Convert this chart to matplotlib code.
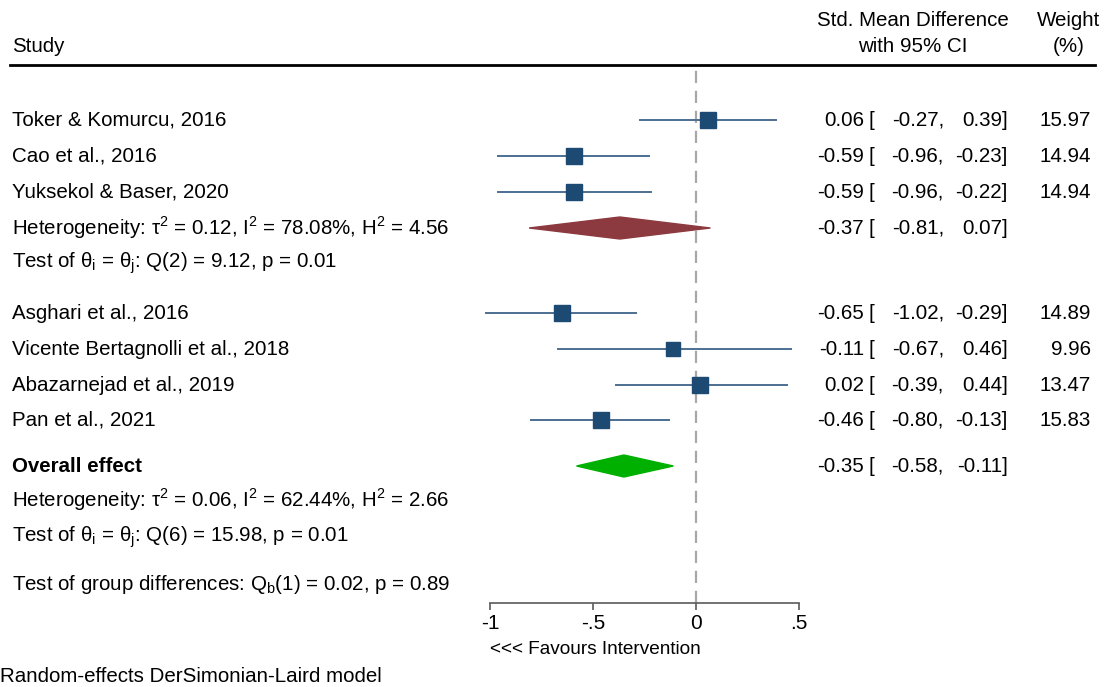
"""
Forest plot: Std. Mean Difference with 95% CI, two subgroups
"""

import numpy as np
import matplotlib
matplotlib.use('Agg')
import matplotlib.pyplot as plt
from matplotlib.patches import Polygon
from matplotlib.transforms import blended_transform_factory

### Data
studies = ['Toker & Komurcu, 2016', 'Cao et al., 2016', 'Yuksekol & Baser, 2020',
           'Asghari et al., 2016', 'Vicente Bertagnolli et al., 2018',
           'Abazarnejad et al., 2019', 'Pan et al., 2021']
smd = [0.06, -0.59, -0.59, -0.65, -0.11, 0.02, -0.46]
ci_lo = [-0.27, -0.96, -0.96, -1.02, -0.67, -0.39, -0.80]
ci_hi = [0.39, -0.23, -0.22, -0.29, 0.46, 0.44, -0.13]
weight = [15.97, 14.94, 14.94, 14.89, 9.96, 13.47, 15.83]

sub_est, sub_lo, sub_hi = -0.37, -0.81, 0.07
sub_het = 'Heterogeneity: τ$^\\mathregular{2}$ = 0.12, I$^\\mathregular{2}$ = 78.08%, H$^\\mathregular{2}$ = 4.56'
sub_test = 'Test of θ$_\\mathregular{i}$ = θ$_\\mathregular{j}$: Q(2) = 9.12, p = 0.01'

all_est, all_lo, all_hi = -0.35, -0.58, -0.11
all_het = 'Heterogeneity: τ$^\\mathregular{2}$ = 0.06, I$^\\mathregular{2}$ = 62.44%, H$^\\mathregular{2}$ = 2.66'
all_test = 'Test of θ$_\\mathregular{i}$ = θ$_\\mathregular{j}$: Q(6) = 15.98, p = 0.01'
grp_test = 'Test of group differences: Q$_\\mathregular{b}$(1) = 0.02, p = 0.89'

xticks = [-1, -0.5, 0, 0.5]
xticklabels = ['-1', '-.5', '0', '.5']

### Layout (pixel rows, from top of a 1105x687 canvas)
W, H = 1105, 687
study_rows = [120, 156, 192, 313, 349, 385, 420]
row_het1, row_test1, row_sub = 228, 263, 228
row_all, row_het2, row_test2, row_grp = 466, 500, 537, 584
x0px, x1px = 490, 799
ytop, ybot = 65, 603

plt.rcParams['font.family'] = ['Liberation Sans', 'DejaVu Sans']
plt.rcParams['mathtext.fontset'] = 'custom'
plt.rcParams['mathtext.rm'] = 'Liberation Sans'

c_box = '#1d4a73'
c_ci = '#4c6f93'
c_sub = '#8c3a3f'
c_all = '#00b000'
c_axis = '#5a5a5a'
fs = 14.8


def main():
    fig = plt.figure(figsize=(W/100, H/100), dpi=100)
    ax = fig.add_axes([x0px/W, 1-ybot/H, (x1px-x0px)/W, (ybot-ytop)/H])
    ax.set_xlim(-1, 0.5)
    ax.set_ylim(ybot, ytop)
    tr = blended_transform_factory(fig.transFigure, ax.transData)

    ## header
    fig.text(12/W, 1-47/H, 'Study', fontsize=fs, ha='left', va='center')
    fig.text(913/W, 1-20/H, 'Std. Mean Difference', fontsize=fs, ha='center', va='center')
    fig.text(913/W, 1-47/H, 'with 95% CI', fontsize=fs, ha='center', va='center')
    fig.text(1069/W, 1-20/H, 'Weight', fontsize=fs, ha='center', va='center')
    fig.text(1069/W, 1-47/H, '(%)', fontsize=fs, ha='center', va='center')
    ax.plot([10/W, 1095/W], [ytop, ytop], color='black', lw=2, transform=tr, clip_on=False)

    ## zero line
    ax.axvline(0, color='#a8a8a8', lw=1.6, ls=(0, (5.5, 3.5)), zorder=1)

    def ci_text(y, est, lo, hi, w=None):
        ax.text(864/W, y, '{:.2f}'.format(est), transform=tr, ha='right', va='center', fontsize=fs)
        ax.text(868/W, y, '[', transform=tr, ha='left', va='center', fontsize=fs)
        ax.text(944/W, y, '{:.2f},'.format(lo), transform=tr, ha='right', va='center', fontsize=fs)
        ax.text(1008/W, y, '{:.2f}]'.format(hi), transform=tr, ha='right', va='center', fontsize=fs)
        if w is not None:
            ax.text(1091/W, y, '{:.2f}'.format(w), transform=tr, ha='right', va='center', fontsize=fs)

    ## studies
    for name, y, m, lo, hi, w in zip(studies, study_rows, smd, ci_lo, ci_hi, weight):
        ax.plot([lo, hi], [y, y], color=c_ci, lw=1.4, zorder=2, clip_on=False)
        ax.plot(m, y, marker='s', ms=np.sqrt(w)*4.2*0.72, color=c_box, mec=c_box, zorder=3, clip_on=False)
        ax.text(12/W, y, name, transform=tr, ha='left', va='center', fontsize=fs)
        ci_text(y, m, lo, hi, w)

    ## subgroup summary
    dh = 11
    ax.add_patch(Polygon([[sub_lo, row_sub], [sub_est, row_sub-dh], [sub_hi, row_sub], [sub_est, row_sub+dh]],
                         closed=True, color=c_sub, zorder=3, clip_on=False))
    ax.text(12/W, row_het1, sub_het, transform=tr, ha='left', va='center', fontsize=fs)
    ax.text(12/W, row_test1, sub_test, transform=tr, ha='left', va='center', fontsize=fs)
    ci_text(row_sub, sub_est, sub_lo, sub_hi)

    ## overall
    ax.add_patch(Polygon([[all_lo, row_all], [all_est, row_all-dh], [all_hi, row_all], [all_est, row_all+dh]],
                         closed=True, color=c_all, zorder=3, clip_on=False))
    ax.text(12/W, row_all, 'Overall effect', transform=tr, ha='left', va='center', fontsize=fs, fontweight='bold')
    ax.text(12/W, row_het2, all_het, transform=tr, ha='left', va='center', fontsize=fs)
    ax.text(12/W, row_test2, all_test, transform=tr, ha='left', va='center', fontsize=fs)
    ax.text(12/W, row_grp, grp_test, transform=tr, ha='left', va='center', fontsize=fs)
    ci_text(row_all, all_est, all_lo, all_hi)

    ## axis
    for s in ['top', 'left', 'right']:
        ax.spines[s].set_visible(False)
    ax.spines['bottom'].set_color(c_axis)
    ax.spines['bottom'].set_linewidth(1.2)
    ax.set_yticks([])
    ax.set_xticks(xticks)
    ax.set_xticklabels(xticklabels)
    ax.tick_params(axis='x', direction='out', length=5, width=1.2, color=c_axis, labelsize=15, pad=3)
    ax.patch.set_alpha(0)
    fig.text(490/W, 1-650/H, '<<< Favours Intervention', fontsize=13.7, ha='left', va='center')
    fig.text(0, 1-677/H, 'Random-effects DerSimonian-Laird model', fontsize=fs, ha='left', va='center')

    plt.savefig('out.png', dpi=100)


if __name__ == '__main__':
    main()
